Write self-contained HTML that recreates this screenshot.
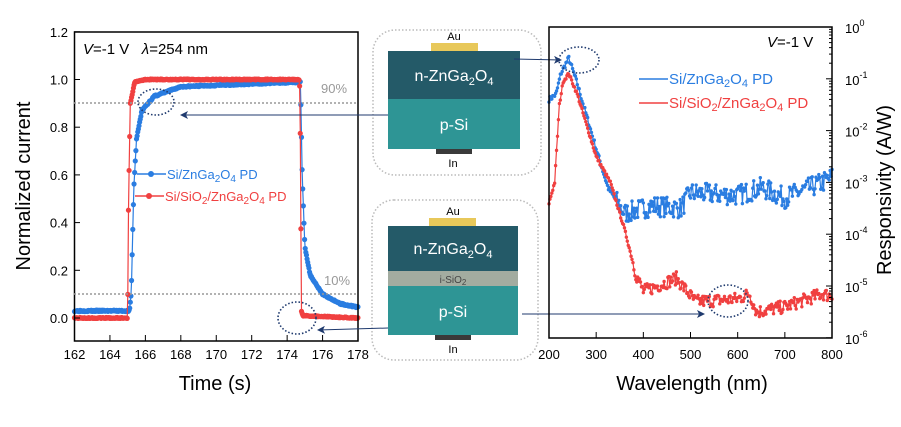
<!DOCTYPE html><html><head><meta charset="utf-8"><style>
body{margin:0;background:#fff;width:901px;height:422px;overflow:hidden}
svg{font-family:"Liberation Sans",sans-serif}
</style></head><body>
<svg id="s" width="901" height="422" viewBox="0 0 901 422" xmlns="http://www.w3.org/2000/svg">
<defs><marker id="ah" markerWidth="8" markerHeight="8" refX="7" refY="4" orient="auto"><path d="M0,0 L8,4 L0,8 L2,4z" fill="#1f3a6e"/></marker></defs>
<g id="L"></g>
<rect x="74.5" y="32" width="283.5" height="309" fill="none" stroke="#000" stroke-width="1.5"/>
<line x1="74" y1="103" x2="358" y2="103" stroke="#999" stroke-dasharray="2,2" stroke-width="1.5"/>
<line x1="74" y1="294" x2="358" y2="294" stroke="#999" stroke-dasharray="2,2" stroke-width="1.5"/>
<text x="321" y="93" font-size="13" fill="#999">90%</text>
<text x="324" y="285" font-size="13" fill="#999">10%</text>
<text x="83" y="54" font-size="15"><tspan font-style="italic">V</tspan>=-1 V &#160;&#160;<tspan font-style="italic">λ</tspan>=254 nm</text>
<g font-size="13" text-anchor="end" id="ly"></g>
<g font-size="13" text-anchor="middle" id="lx"></g>
<text x="215" y="390" font-size="20" text-anchor="middle">Time (s)</text>
<text transform="translate(30,186) rotate(-90)" font-size="20" text-anchor="middle">Normalized current</text>
<line x1="137" y1="174" x2="166" y2="174" stroke="#2a7de1" stroke-width="1.5"/><circle cx="151" cy="174" r="3" fill="#2a7de1"/>
<text x="167" y="179" font-size="13" fill="#2a7de1">Si/ZnGa<tspan font-size="10" dy="3">2</tspan><tspan dy="-3">O</tspan><tspan font-size="10" dy="3">4</tspan><tspan dy="-3"> PD</tspan></text>
<line x1="135" y1="196" x2="164" y2="196" stroke="#f04040" stroke-width="1.5"/><circle cx="149" cy="196" r="3" fill="#f04040"/>
<text x="165" y="201" font-size="13" fill="#f04040">Si/SiO<tspan font-size="10" dy="3">2</tspan><tspan dy="-3">/ZnGa</tspan><tspan font-size="10" dy="3">2</tspan><tspan dy="-3">O</tspan><tspan font-size="10" dy="3">4</tspan><tspan dy="-3"> PD</tspan></text>
<!-- middle -->
<rect x="373" y="30" width="168" height="145" rx="22" fill="none" stroke="#bbb" stroke-dasharray="1.5,2" stroke-width="1.5"/>
<text x="454" y="40" font-size="11" text-anchor="middle">Au</text>
<rect x="431" y="43" width="47" height="8" fill="#e8c85a"/>
<rect x="388" y="51" width="132" height="48" fill="#245a68"/>
<rect x="388" y="99" width="132" height="50" fill="#2e9595"/>
<rect x="436" y="149" width="36" height="5" fill="#3a3a3a"/>
<text x="453" y="167" font-size="11" text-anchor="middle">In</text>
<text x="454" y="81" font-size="16" fill="#fff" text-anchor="middle">n-ZnGa<tspan font-size="11" dy="4">2</tspan><tspan dy="-4">O</tspan><tspan font-size="11" dy="4">4</tspan></text>
<text x="454" y="130" font-size="16" fill="#fff" text-anchor="middle">p-Si</text>
<rect x="372" y="200" width="166" height="160" rx="22" fill="none" stroke="#bbb" stroke-dasharray="1.5,2" stroke-width="1.5"/>
<text x="453" y="215" font-size="11" text-anchor="middle">Au</text>
<rect x="429" y="218" width="47" height="8" fill="#e8c85a"/>
<rect x="388" y="226" width="130" height="45" fill="#245a68"/>
<rect x="388" y="271" width="130" height="15" fill="#a3aca0"/>
<rect x="388" y="286" width="130" height="49" fill="#2e9595"/>
<rect x="435" y="335" width="36" height="5" fill="#3a3a3a"/>
<text x="453" y="353" font-size="11" text-anchor="middle">In</text>
<text x="453" y="254" font-size="16" fill="#fff" text-anchor="middle">n-ZnGa<tspan font-size="11" dy="4">2</tspan><tspan dy="-4">O</tspan><tspan font-size="11" dy="4">4</tspan></text>
<text x="453" y="283" font-size="10" fill="#444" text-anchor="middle">i-SiO<tspan font-size="8" dy="2">2</tspan></text>
<text x="453" y="317" font-size="16" fill="#fff" text-anchor="middle">p-Si</text>
<g stroke="#1f3a6e" stroke-width="1" fill="none">
<line x1="388" y1="115" x2="181" y2="115" marker-end="url(#ah)"/>
<line x1="388" y1="328" x2="318" y2="330" marker-end="url(#ah)"/>
<line x1="514" y1="59" x2="561" y2="60" marker-end="url(#ah)"/>
<line x1="522" y1="314" x2="704" y2="314" marker-end="url(#ah)"/>
</g>
<!-- right plot -->
<g id="R"></g>
<rect x="549" y="27" width="283" height="311" fill="none" stroke="#000" stroke-width="1.5"/>
<g font-size="13" text-anchor="middle" id="rx"></g>
<g id="ry"></g>
<text x="767" y="47" font-size="15"><tspan font-style="italic">V</tspan>=-1 V</text>
<line x1="639" y1="79" x2="668" y2="79" stroke="#2a7de1" stroke-width="1.5"/>
<text x="669" y="84" font-size="15" fill="#2a7de1">Si/ZnGa<tspan font-size="11" dy="3">2</tspan><tspan dy="-3">O</tspan><tspan font-size="11" dy="3">4</tspan><tspan dy="-3"> PD</tspan></text>
<line x1="639" y1="103" x2="668" y2="103" stroke="#f04040" stroke-width="1.5"/>
<text x="669" y="108" font-size="15" fill="#f04040">Si/SiO<tspan font-size="11" dy="3">2</tspan><tspan dy="-3">/ZnGa</tspan><tspan font-size="11" dy="3">2</tspan><tspan dy="-3">O</tspan><tspan font-size="11" dy="3">4</tspan><tspan dy="-3"> PD</tspan></text>
<text x="692" y="390" font-size="20" text-anchor="middle">Wavelength (nm)</text>
<text transform="translate(891,190) rotate(-90)" font-size="20" text-anchor="middle">Responsivity (A/W)</text>
<g fill="none" stroke="#1f3a6e" stroke-width="1.6" stroke-dasharray="1.5,2">
<ellipse cx="156" cy="102" rx="18" ry="13"/>
<ellipse cx="297" cy="318" rx="19" ry="16"/>
<ellipse cx="579" cy="60" rx="20" ry="13"/>
<ellipse cx="728" cy="301" rx="20" ry="16"/>
</g>
</svg>
<script>
const NS="http://www.w3.org/2000/svg";
function el(p,t,a,txt){const e=document.createElementNS(NS,t);for(const k in a)e.setAttribute(k,a[k]);if(txt!=null)e.textContent=txt;document.getElementById(p).appendChild(e);return e;}
let seed=3;function rnd(){seed=(seed*16807)%2147483647;return seed/2147483647;}
function interp(pts,x){for(let i=0;i<pts.length-1;i++){if(x<=pts[i+1][0]){const [a,b]=pts[i],[c,d]=pts[i+1];return b+(d-b)*(x-a)/(c-a);}}return pts[pts.length-1][1];}
const lx=t=>74.5+(t-162)*17.72, ly=v=>318-v*238.5;
for(let v=0;v<=1.2001;v+=0.2){el("ly","text",{x:68,y:ly(v)+5},v.toFixed(1));el("ly","line",{x1:74,x2:80,y1:ly(v),y2:ly(v),stroke:"#000"});}
for(let t=162;t<=178;t+=2){el("lx","text",{x:lx(t),y:359},t);el("lx","line",{x1:lx(t),x2:lx(t),y1:341,y2:335,stroke:"#000"});}
function curve(g,pts,col,fx,fy,step,x0,x1,noise,r){let d="";for(let x=x0;x<=x1;x+=step){const n=typeof noise=="function"?noise(x):noise;const y=interp(pts,x)+(rnd()-0.5)*n;const X=fx(x),Y=fy(y);d+=(d?"L":"M")+X.toFixed(1)+","+Y.toFixed(1);el(g,"circle",{cx:X,cy:Y,r:r,fill:col});}el(g,"path",{d:d,stroke:col,fill:"none","stroke-width":1.2});}
const blue=[[162,0.03],[165.1,0.03],[165.2,0.1],[165.35,0.55],[165.5,0.75],[165.8,0.87],[166.5,0.93],[168,0.97],[174.75,0.99],[174.85,0.6],[175,0.3],[175.3,0.18],[176,0.1],[177,0.06],[178,0.045]];
const red=[[162,0],[165,0],[165.05,0.5],[165.15,0.9],[165.4,0.99],[166,1],[174.7,1],[174.75,0.72],[174.8,0.03],[174.9,0.01],[178,0]];
curve("L",blue,"#2a7de1",lx,ly,0.035,162,178,0.006,2.6);
curve("L",red,"#f04040",lx,ly,0.035,162,178,0.004,2.6);
const rx=w=>549+(w-200)*0.4717, ry=l=>27-l*51.8;
for(let w=200;w<=800;w+=100){el("rx","text",{x:rx(w),y:359},w);el("rx","line",{x1:rx(w),x2:rx(w),y1:338,y2:332,stroke:"#000"});}
for(let e=0;e>=-6;e--){const t=el("ry","text",{x:845,y:ry(e)+6,"font-size":13},"10");const s=document.createElementNS(NS,"tspan");s.setAttribute("font-size","9");s.setAttribute("dy","-7");s.textContent=e;t.appendChild(s);
 el("ry","line",{x1:826,x2:832,y1:ry(e),y2:ry(e),stroke:"#000"});
 if(e>-6)for(let k=2;k<10;k++){const yy=ry(e-1+Math.log10(k));el("ry","line",{x1:829,x2:832,y1:yy,y2:yy,stroke:"#000"});}}
const bR=[[200,-1.4],[215,-1.3],[225,-0.9],[242,-0.6],[260,-1.1],[300,-2.35],[325,-3.1],[360,-3.6],[420,-3.45],[480,-3.5],[500,-3.2],[600,-3.25],[650,-3.1],[700,-3.3],[780,-3.0],[800,-2.9]];
const rR=[[200,-3.4],[212,-3.0],[222,-1.5],[230,-1.05],[242,-0.9],[260,-1.3],[300,-2.5],[330,-3.0],[360,-3.9],[385,-4.8],[400,-5.1],[430,-5.0],[470,-4.85],[510,-5.3],[600,-5.25],[625,-5.15],[640,-5.5],[700,-5.4],[780,-5.15],[800,-5.2]];
seed=7;
curve("R",bR,"#2a7de1",rx,ry,2,200,800,x=>x<340?0.1:0.4,1.7);
curve("R",rR,"#f04040",rx,ry,2,200,800,x=>x<380?0.06:0.25,1.7);
</script>
</body></html>
